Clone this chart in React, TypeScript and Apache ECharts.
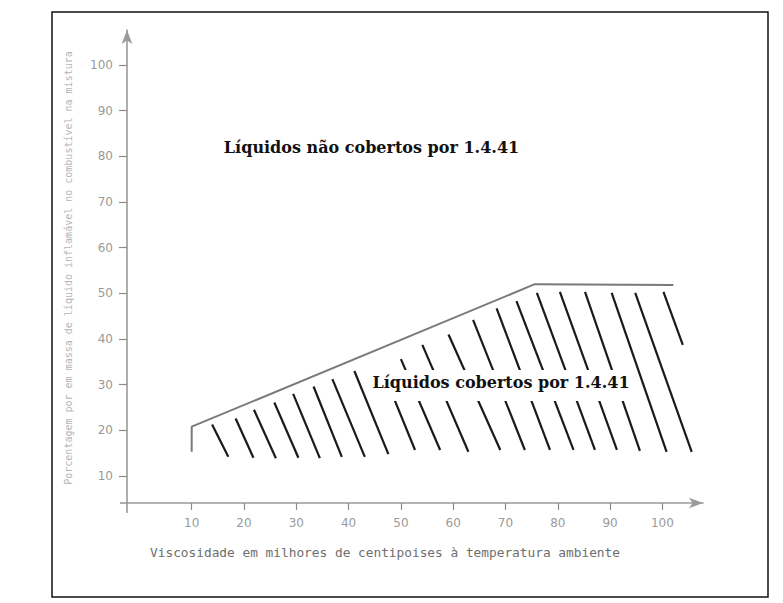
import React, { useEffect, useRef } from "react";
import * as echarts from "echarts";

// Axis tick values
const xTicks = [10, 20, 30, 40, 50, 60, 70, 80, 90, 100];
const yTicks = [10, 20, 30, 40, 50, 60, 70, 80, 90, 100];

// Boundary between the two regions (viscosity, percentage)
const boundaryX = [10, 10, 75.6, 102.1];
const boundaryY = [15.3, 20.8, 52.0, 51.8];

// Hatch strokes: top point and bottom point of each stroke
const hatchTopX = [13.9, 18.4, 21.9, 25.8, 29.4, 33.3, 36.9, 41.1, 46.6, 50.0, 54.1, 59.1, 63.8, 68.3, 72.1, 76.0, 80.4, 85.2, 90.3, 94.8, 100.2];
const hatchTopY = [21.3, 22.6, 24.5, 26.1, 28.0, 29.6, 31.2, 33.0, 32.8, 35.6, 38.7, 41.0, 44.2, 46.7, 48.3, 50.1, 50.3, 50.3, 50.1, 50.1, 50.3];
const hatchBottomX = [17.0, 21.8, 26.1, 30.4, 34.5, 38.7, 43.1, 47.6, 52.7, 57.5, 62.9, 69.0, 73.7, 78.5, 83.0, 87.1, 91.3, 95.7, 100.8, 105.6, 103.9];
const hatchBottomY = [14.2, 14.0, 13.9, 14.0, 13.9, 14.2, 14.2, 14.8, 15.7, 15.7, 15.3, 15.7, 15.7, 15.7, 15.7, 15.7, 15.7, 15.5, 15.3, 15.3, 38.7];

const labelTop = "Líquidos não cobertos por 1.4.41";
const labelBottom = "Líquidos cobertos por 1.4.41";
const xTitle = "Viscosidade em milhores de centipoises à temperatura ambiente";
const yTitle = "Porcentagem por em massa de líquido inflamável no combustível na mistura";

const X_MIN = -2.37;
const X_MAX = 107.76;
const Y_MIN = 4.09;
const Y_MAX = 107.66;

const GRID_LEFT = 127;
const GRID_TOP = 30;
const GRID_RIGHT = 80;
const GRID_BOTTOM = 100;
const W = 783;
const H = 603;

export default function App() {
  const ref = useRef<HTMLDivElement>(null);
  useEffect(() => {
    if (!ref.current) return;
    const chart = echarts.init(ref.current, undefined, { renderer: "svg" });
    const axisGray = "#9a9a9a";
    const originX = GRID_LEFT;
    const originY = H - GRID_BOTTOM;
    const hatchData = hatchTopX.map((_, i) => ({
      coords: [
        [hatchTopX[i], hatchTopY[i]],
        [hatchBottomX[i], hatchBottomY[i]],
      ],
    }));
    const option: any = {
      animation: false,
      backgroundColor: "#ffffff",
      grid: { left: GRID_LEFT, top: GRID_TOP, right: GRID_RIGHT, bottom: GRID_BOTTOM, containLabel: false },
      xAxis: {
        type: "value",
        min: X_MIN,
        max: X_MAX,
        splitLine: { show: false },
        axisLine: {
          show: true,
          onZero: false,
          symbol: ["none", "arrow"],
          symbolSize: [8, 14],
          lineStyle: { color: axisGray, width: 1.6 },
        },
        axisTick: { show: true, length: 7, customValues: xTicks, lineStyle: { color: "#8a8a8a", width: 1.2 } },
        axisLabel: {
          show: true,
          customValues: xTicks,
          margin: 14,
          color: "#9a9a9a",
          fontFamily: "DejaVu Sans",
          fontSize: 12,
        },
      },
      yAxis: {
        type: "value",
        min: Y_MIN,
        max: Y_MAX,
        splitLine: { show: false },
        axisLine: {
          show: true,
          onZero: false,
          symbol: ["none", "arrow"],
          symbolSize: [8, 14],
          lineStyle: { color: axisGray, width: 1.6 },
        },
        axisTick: { show: true, length: 8, customValues: yTicks, lineStyle: { color: "#8a8a8a", width: 1.2 } },
        axisLabel: {
          show: true,
          customValues: yTicks,
          margin: 14,
          color: "#9a9a9a",
          fontFamily: "DejaVu Sans",
          fontSize: 12,
        },
      },
      series: [
        {
          type: "line",
          data: boundaryX.map((x, i) => [x, boundaryY[i]]),
          showSymbol: false,
          symbol: "none",
          lineStyle: { color: "#7a7a7a", width: 2 },
          silent: true,
          z: 3,
        },
        {
          type: "lines",
          coordinateSystem: "cartesian2d",
          data: hatchData,
          lineStyle: { color: "#1a1a1a", width: 2.2, opacity: 1 },
          silent: true,
          z: 2,
        },
      ],
      graphic: [
        {
          type: "rect",
          z: 200,
          shape: { x: 52, y: 12, width: 716, height: 585 },
          style: { fill: "none", stroke: "#111", lineWidth: 1.5 },
        },
        {
          type: "line",
          z: 1,
          shape: { x1: originX - 7, y1: originY, x2: originX, y2: originY },
          style: { stroke: axisGray, lineWidth: 1.6 },
        },
        {
          type: "line",
          z: 1,
          shape: { x1: originX, y1: originY, x2: originX, y2: originY + 10 },
          style: { stroke: axisGray, lineWidth: 1.6 },
        },
        {
          type: "text",
          z: 100,
          x: 371.5,
          y: 147,
          style: {
            text: labelTop,
            fill: "#111",
            font: "bold 16px 'DejaVu Serif'",
            align: "center",
            verticalAlign: "middle",
          },
        },
        {
          type: "rect",
          z: 99,
          shape: { x: 370, y: 370, width: 264, height: 31 },
          style: { fill: "#ffffff", stroke: "none" },
        },
        {
          type: "text",
          z: 100,
          x: 501,
          y: 382,
          style: {
            text: labelBottom,
            fill: "#111",
            font: "bold 16px 'DejaVu Serif'",
            align: "center",
            verticalAlign: "middle",
          },
        },
        {
          type: "text",
          z: 100,
          x: 385,
          y: 552,
          style: {
            text: xTitle,
            fill: "#6e6e6e",
            font: "12.8px 'DejaVu Sans Mono'",
            align: "center",
            verticalAlign: "middle",
          },
        },
        {
          type: "text",
          z: 100,
          x: 68,
          y: 268,
          rotation: Math.PI / 2,
          style: {
            text: yTitle,
            fill: "#b5b5b5",
            font: "10px 'DejaVu Sans Mono'",
            align: "center",
            verticalAlign: "middle",
          },
        },
      ],
    };
    chart.setOption(option);
    return () => chart.dispose();
  }, []);
  return (
    <div
      ref={ref}
      style={{ position: "fixed", left: 0, top: 0, width: W, height: H, background: "#fff" }}
    />
  );
}
